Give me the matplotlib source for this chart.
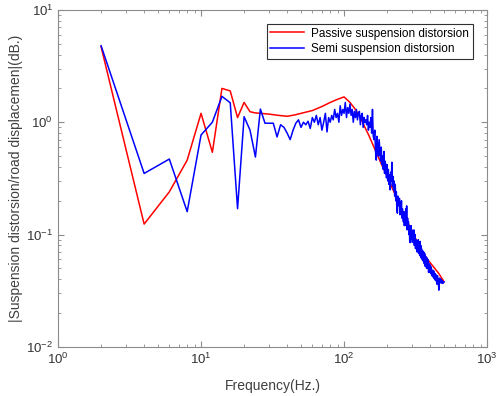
import matplotlib
matplotlib.use("Agg")
import matplotlib.pyplot as plt
import numpy as np

plt.rcParams['font.family'] = ['Liberation Sans', 'DejaVu Sans']
plt.rcParams['mathtext.default'] = 'regular'

# passive suspension (smooth curve)
freq_passive = [2, 4, 6, 8, 10, 12, 14, 16, 18, 20, 22, 24, 26, 28, 30, 35, 40, 45,
                50, 60, 70, 80, 90, 100, 110, 120, 130, 140, 150, 160, 180, 200,
                220, 240, 260, 280, 300, 340, 380, 420, 460, 500]
passive = [4.7, 0.124, 0.24, 0.46, 1.2, 0.54, 2.0, 1.9, 1.1, 1.5, 1.24, 1.21, 1.2,
           1.19, 1.18, 1.15, 1.13, 1.16, 1.2, 1.27, 1.38, 1.5, 1.6, 1.68, 1.5, 1.3,
           1.1, 0.9, 0.75, 0.62, 0.44, 0.33, 0.25, 0.196, 0.155, 0.127, 0.107,
           0.075, 0.061, 0.052, 0.045, 0.038]

# semi-active suspension, every 2 Hz
freq_semi = np.arange(2, 502, 2)
semi = [
    4.8, 0.35, 0.47, 0.16, 0.77, 1.0, 1.7, 1.49, 0.17, 1.12,
    0.85, 0.49, 1.31, 0.98, 0.98, 0.98, 0.74, 0.95, 0.9, 0.8,
    0.7, 0.85, 0.98, 1.05, 0.9, 1.0, 0.95, 1.02, 0.88, 1.1,
    1.0, 1.15, 0.95, 1.1, 0.85, 1.0, 1.2, 0.82, 1.1, 1.0,
    1.15, 1.05, 1.3, 1.1, 1.2, 1.0, 1.4, 1.15, 1.3, 1.2,
    1.5, 1.1, 1.35, 1.2, 1.45, 1.15, 1.3, 1.0, 1.25, 1.1,
    1.3, 1.05, 1.2, 1.25, 0.95, 1.15, 1.2, 0.9, 1.1, 1.0,
    1.05, 0.95, 1.15, 0.85, 1.0, 0.9, 1.1, 0.8, 1.3, 0.75,
    0.7, 0.85, 0.55, 0.46, 0.75, 0.6, 0.5, 0.7, 0.55, 0.45,
    0.6, 0.42, 0.5, 0.38, 0.55, 0.35, 0.45, 0.4, 0.32, 0.42,
    0.3, 0.38, 0.28, 0.34, 0.25, 0.36, 0.3, 0.44, 0.27, 0.33,
    0.25, 0.3, 0.22, 0.28, 0.2, 0.24, 0.17, 0.155, 0.22, 0.2,
    0.18, 0.21, 0.15, 0.19, 0.16, 0.2, 0.14, 0.17, 0.15, 0.13,
    0.16, 0.12, 0.15, 0.13, 0.17, 0.12, 0.18, 0.11, 0.14, 0.12,
    0.13, 0.1, 0.12, 0.085, 0.11, 0.085, 0.12, 0.1, 0.11, 0.09,
    0.1, 0.085, 0.095, 0.11, 0.08, 0.09, 0.1, 0.075, 0.09, 0.08,
    0.088, 0.07, 0.085, 0.078, 0.09, 0.068, 0.08, 0.075, 0.065, 0.087,
    0.07, 0.08, 0.062, 0.075, 0.068, 0.06, 0.072, 0.065, 0.058, 0.07,
    0.062, 0.055, 0.068, 0.06, 0.052, 0.064, 0.058, 0.055, 0.05, 0.062,
    0.055, 0.06, 0.05, 0.059, 0.046, 0.055, 0.05, 0.046, 0.054, 0.05,
    0.047, 0.052, 0.045, 0.05, 0.043, 0.048, 0.046, 0.046, 0.042, 0.048,
    0.044, 0.041, 0.047, 0.043, 0.04, 0.045, 0.041, 0.039, 0.044, 0.04,
    0.042, 0.038, 0.041, 0.036, 0.043, 0.039, 0.037, 0.04, 0.035, 0.032,
    0.04, 0.038, 0.041, 0.037, 0.039, 0.038, 0.04, 0.038, 0.039, 0.037,
    0.038, 0.039, 0.038, 0.037, 0.038, 0.038, 0.037, 0.038, 0.038, 0.038,
]

fig = plt.figure(figsize=(4.96, 3.96), dpi=100)
ax = fig.add_axes([0.117, 0.124, 0.865, 0.851])

ax.loglog(freq_passive, passive, color='#ff0000', lw=1.1, label='Passive suspension distorsion')
ax.loglog(freq_semi, semi, color='#0000ff', lw=1.1, label='Semi suspension distorsion')

ax.set_xlim(1, 1000)
ax.set_ylim(0.01, 10)
ax.set_xlabel('Frequency(Hz.)', fontsize=10, color='#404040', labelpad=9)
ax.set_ylabel('|Suspension distorsion/road displacemen|(dB.)', fontsize=10,
              color='#404040', labelpad=2)

for sp in ax.spines.values():
    sp.set_color('#8c8c8c')
    sp.set_linewidth(0.8)
ax.tick_params(which='both', direction='in', top=True, right=True,
               colors='#8c8c8c', labelcolor='#333333', labelsize=9.5)
ax.tick_params(which='major', length=4)
ax.tick_params(which='minor', length=2)

leg = ax.legend(loc='upper right', fontsize=8.5, fancybox=False, framealpha=1,
                edgecolor='#303030', borderpad=0.3, handlelength=2.9,
                handletextpad=0.6, labelspacing=0.3, borderaxespad=1.2)
leg.get_frame().set_linewidth(0.8)

fig.savefig('out.png', dpi=100)
